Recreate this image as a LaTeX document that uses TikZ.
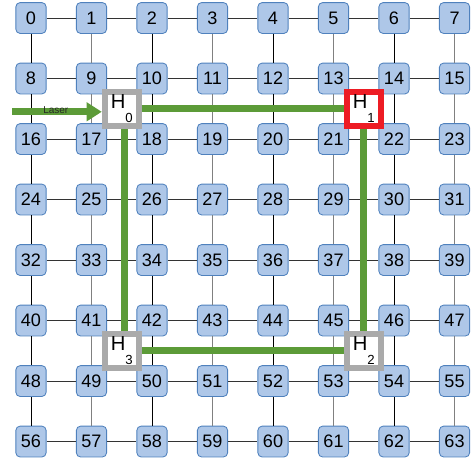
\documentclass[tikz,border=0pt]{standalone}
\usepackage{fontspec}
\setmainfont{Liberation Sans}
\usepackage{xcolor}
\usetikzlibrary{arrows.meta,positioning,calc}

\definecolor{tilefill}{RGB}{174,199,232}
\definecolor{tileline}{RGB}{79,129,189}
\definecolor{lasergreen}{RGB}{92,155,56}
\definecolor{hgray}{RGB}{170,170,170}
\definecolor{hred}{RGB}{237,28,36}

\newcommand{\hlab}[1]{H\raisebox{-6.8pt}{\fontsize{6.2}{6.2}\selectfont #1}}

\begin{document}
\begin{tikzpicture}[
  tile/.style={rectangle,rounded corners=0.07cm,draw=tileline,fill=tilefill,minimum width=0.5cm,minimum height=0.51cm,inner sep=0pt,font=\fontsize{8.5}{8.5}\selectfont},
  hop/.style={rectangle,draw=hgray,line width=0.1cm,fill=white,minimum size=0.56cm,inner sep=0pt,font=\fontsize{9.5}{9.5}\selectfont},
  hwire/.style={black!80,line width=0.4pt},
  vwire/.style={black,line width=0.4pt},
  vgray/.style={black!50,line width=0.45pt},
  beam/.style={lasergreen,line width=0.115cm}]
\useasboundingbox (-0.512,0.2975) rectangle (7.355,-7.322);
% mesh of routers
\foreach \i in {0,...,63} {
  \pgfmathtruncatemacro\c{mod(\i,8)}
  \pgfmathtruncatemacro\r{div(\i,8)}
  \node[tile] (n\i) at (\c,-\r) {\i};
}
\foreach \r in {0,...,7} \foreach \c in {0,...,6} {
  \pgfmathtruncatemacro\a{8*\r+\c}
  \pgfmathtruncatemacro\b{\a+1}
  \draw[hwire] (n\a) -- (n\b);
}
\foreach \r in {0,...,6} \foreach \c in {0,...,7} {
  \pgfmathtruncatemacro\a{8*\r+\c}
  \pgfmathtruncatemacro\b{\a+8}
  \pgfmathtruncatemacro\odd{mod(\c,2)}
  \ifnum\odd=1 \draw[vgray] (n\a) -- (n\b); \else \draw[vwire] (n\a) -- (n\b); \fi
}
% hubs
\node[hop] (h0) at (1.5,-1.5) {\hlab{0}};
\node[hop,draw=hred] (h1) at (5.5,-1.5) {\hlab{1}};
\node[hop] (h2) at (5.5,-5.5) {\hlab{2}};
\node[hop] (h3) at (1.5,-5.5) {\hlab{3}};
% optical ring
\draw[beam] (h0) -- (h1);
\draw[beam] (h1) -- (h2);
\draw[beam] (h2) -- (h3);
\draw[beam] ([xshift=0.05cm]h3.north) -- ([xshift=0.05cm]h0.south);
\coordinate (lsrc) at (-0.31,-1.55);
\draw[beam,-{Triangle[width=0.3cm,length=0.25cm]}] (lsrc) -- (lsrc -| h0.west);
\node[font=\fontsize{4.7}{4.7}\selectfont,text=black!85] (laser) at (0.41,-1.53) {Laser};
\end{tikzpicture}
\end{document}
